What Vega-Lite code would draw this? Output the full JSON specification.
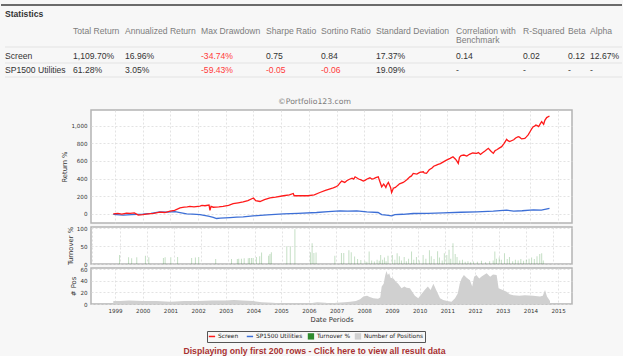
{
  "$schema": "https://vega.github.io/schema/vega-lite/v6.json",
  "background": "#f7f7f7",
  "padding": 0,
  "bounds": "flush",
  "spacing": 4,
  "title": {"text": "Displaying only first 200 rows - Click here to view all result data", "orient": "bottom", "anchor": "middle", "frame": "group", "dx": -17, "offset": 4, "font": "Liberation Sans", "fontSize": 8.7, "fontWeight": "bold", "color": "#a83232"},
  "config": {
    "font": "DejaVu Sans",
    "view": {"stroke": "#b4b4b4", "strokeWidth": 1.5, "fill": "#ffffff"},
    "axis": {"labelFont": "DejaVu Sans", "labelFontSize": 5.6, "labelColor": "#333333", "titleFont": "DejaVu Sans", "titleFontSize": 6.8, "titleFontWeight": "normal", "titleColor": "#333333", "ticks": false, "domain": false, "gridColor": "#dcdcdc", "gridDash": [2, 2], "gridWidth": 0.8, "labelPadding": 4, "titlePadding": 3}
  },
  "datasets": {
    "headers": [
      {"col": 1, "header": "Total Return"}, {"col": 2, "header": "Annualized Return"}, {"col": 3, "header": "Max Drawdown"}, {"col": 4, "header": "Sharpe Ratio"}, {"col": 5, "header": "Sortino Ratio"}, {"col": 6, "header": "Standard Deviation"}, {"col": 7, "header": "Correlation with\nBenchmark"}, {"col": 8, "header": "R-Squared"}, {"col": 9, "header": "Beta"}, {"col": 10, "header": "Alpha"}
    ],
    "stats": [
      {"series": "Screen", "slot": 3, "col": 1, "value": 1109.70, "label": "1,109.70%"},
      {"series": "Screen", "slot": 3, "col": 2, "value": 16.96, "label": "16.96%"},
      {"series": "Screen", "slot": 3, "col": 3, "value": -34.74, "label": "-34.74%"},
      {"series": "Screen", "slot": 3, "col": 4, "value": 0.75, "label": "0.75"},
      {"series": "Screen", "slot": 3, "col": 5, "value": 0.84, "label": "0.84"},
      {"series": "Screen", "slot": 3, "col": 6, "value": 17.37, "label": "17.37%"},
      {"series": "Screen", "slot": 3, "col": 7, "value": 0.14, "label": "0.14"},
      {"series": "Screen", "slot": 3, "col": 8, "value": 0.02, "label": "0.02"},
      {"series": "Screen", "slot": 3, "col": 9, "value": 0.12, "label": "0.12"},
      {"series": "Screen", "slot": 3, "col": 10, "value": 12.67, "label": "12.67%"},
      {"series": "SP1500 Utilities", "slot": 5, "col": 1, "value": 61.28, "label": "61.28%"},
      {"series": "SP1500 Utilities", "slot": 5, "col": 2, "value": 3.05, "label": "3.05%"},
      {"series": "SP1500 Utilities", "slot": 5, "col": 3, "value": -59.43, "label": "-59.43%"},
      {"series": "SP1500 Utilities", "slot": 5, "col": 4, "value": -0.05, "label": "-0.05"},
      {"series": "SP1500 Utilities", "slot": 5, "col": 5, "value": -0.06, "label": "-0.06"},
      {"series": "SP1500 Utilities", "slot": 5, "col": 6, "value": 19.09, "label": "19.09%"},
      {"series": "SP1500 Utilities", "slot": 5, "col": 7, "value": null, "label": "-"},
      {"series": "SP1500 Utilities", "slot": 5, "col": 8, "value": null, "label": "-"},
      {"series": "SP1500 Utilities", "slot": 5, "col": 9, "value": null, "label": "-"},
      {"series": "SP1500 Utilities", "slot": 5, "col": 10, "value": null, "label": "-"}
    ],
    "screen": [
      {"date": "1998-12-09", "Screen": 0}, {"date": "1999-02-07", "Screen": 5}, {"date": "1999-04-01", "Screen": -3}, {"date": "1999-06-02", "Screen": 8}, {"date": "1999-07-19", "Screen": 5}, {"date": "1999-09-13", "Screen": 10}, {"date": "1999-11-03", "Screen": -15}, {"date": "2000-01-01", "Screen": -10}, {"date": "2000-03-13", "Screen": 0}, {"date": "2000-05-25", "Screen": 5}, {"date": "2000-08-14", "Screen": 20}, {"date": "2000-10-19", "Screen": 15}, {"date": "2000-12-27", "Screen": 30},
      {"date": "2001-02-25", "Screen": 40}, {"date": "2001-05-07", "Screen": 68}, {"date": "2001-07-01", "Screen": 75}, {"date": "2001-08-10", "Screen": 80}, {"date": "2001-09-13", "Screen": 85}, {"date": "2001-11-07", "Screen": 78}, {"date": "2002-01-26", "Screen": 88}, {"date": "2002-02-20", "Screen": 95}, {"date": "2002-04-01", "Screen": 92}, {"date": "2002-05-25", "Screen": 100}, {"date": "2002-06-06", "Screen": 40}, {"date": "2002-06-20", "Screen": 85}, {"date": "2002-07-19", "Screen": 75}, {"date": "2002-10-01", "Screen": 80}, {"date": "2002-11-25", "Screen": 85},
      {"date": "2003-02-07", "Screen": 95}, {"date": "2003-04-08", "Screen": 115}, {"date": "2003-06-13", "Screen": 125}, {"date": "2003-08-18", "Screen": 136}, {"date": "2003-10-19", "Screen": 150}, {"date": "2004-01-01", "Screen": 180}, {"date": "2004-01-30", "Screen": 150}, {"date": "2004-03-27", "Screen": 140}, {"date": "2004-05-25", "Screen": 160}, {"date": "2004-08-07", "Screen": 182}, {"date": "2004-10-19", "Screen": 190},
      {"date": "2005-01-30", "Screen": 205}, {"date": "2005-04-19", "Screen": 215}, {"date": "2005-06-09", "Screen": 231}, {"date": "2005-06-20", "Screen": 205}, {"date": "2005-12-20", "Screen": 205}, {"date": "2006-03-13", "Screen": 215}, {"date": "2006-05-25", "Screen": 242}, {"date": "2006-08-07", "Screen": 265}, {"date": "2006-11-18", "Screen": 295}, {"date": "2006-12-20", "Screen": 305},
      {"date": "2007-01-19", "Screen": 320}, {"date": "2007-02-10", "Screen": 345}, {"date": "2007-03-09", "Screen": 371}, {"date": "2007-04-19", "Screen": 356}, {"date": "2007-05-15", "Screen": 375}, {"date": "2007-06-13", "Screen": 390}, {"date": "2007-07-25", "Screen": 405}, {"date": "2007-08-15", "Screen": 395}, {"date": "2007-09-02", "Screen": 420}, {"date": "2007-10-19", "Screen": 395}, {"date": "2007-11-20", "Screen": 385}, {"date": "2007-12-20", "Screen": 371},
      {"date": "2008-01-10", "Screen": 380}, {"date": "2008-02-07", "Screen": 395}, {"date": "2008-03-16", "Screen": 409}, {"date": "2008-04-10", "Screen": 395}, {"date": "2008-05-07", "Screen": 400}, {"date": "2008-06-01", "Screen": 410}, {"date": "2008-07-04", "Screen": 420}, {"date": "2008-07-19", "Screen": 380}, {"date": "2008-08-18", "Screen": 307}, {"date": "2008-09-13", "Screen": 337}, {"date": "2008-09-28", "Screen": 320}, {"date": "2008-10-12", "Screen": 300}, {"date": "2008-10-25", "Screen": 330}, {"date": "2008-11-14", "Screen": 356}, {"date": "2008-12-13", "Screen": 300}, {"date": "2008-12-27", "Screen": 242},
      {"date": "2009-01-19", "Screen": 290}, {"date": "2009-02-15", "Screen": 300}, {"date": "2009-03-13", "Screen": 320}, {"date": "2009-04-10", "Screen": 340}, {"date": "2009-05-29", "Screen": 356}, {"date": "2009-06-20", "Screen": 370}, {"date": "2009-07-19", "Screen": 390}, {"date": "2009-08-25", "Screen": 420}, {"date": "2009-09-15", "Screen": 430}, {"date": "2009-10-08", "Screen": 458}, {"date": "2009-11-25", "Screen": 450},
      {"date": "2010-01-01", "Screen": 470}, {"date": "2010-02-18", "Screen": 477}, {"date": "2010-03-01", "Screen": 465}, {"date": "2010-04-01", "Screen": 460}, {"date": "2010-05-07", "Screen": 500}, {"date": "2010-06-13", "Screen": 520}, {"date": "2010-07-05", "Screen": 540}, {"date": "2010-08-10", "Screen": 553}, {"date": "2010-09-01", "Screen": 560}, {"date": "2010-10-01", "Screen": 570}, {"date": "2010-11-10", "Screen": 590}, {"date": "2010-12-20", "Screen": 610},
      {"date": "2011-02-07", "Screen": 630}, {"date": "2011-03-16", "Screen": 648}, {"date": "2011-04-19", "Screen": 620}, {"date": "2011-05-05", "Screen": 600}, {"date": "2011-05-25", "Screen": 572}, {"date": "2011-06-10", "Screen": 640}, {"date": "2011-07-01", "Screen": 660}, {"date": "2011-08-07", "Screen": 667}, {"date": "2011-09-15", "Screen": 655}, {"date": "2011-10-19", "Screen": 675}, {"date": "2011-12-01", "Screen": 690},
      {"date": "2012-01-23", "Screen": 686}, {"date": "2012-02-15", "Screen": 695}, {"date": "2012-03-13", "Screen": 674}, {"date": "2012-04-05", "Screen": 690}, {"date": "2012-05-07", "Screen": 710}, {"date": "2012-06-24", "Screen": 743}, {"date": "2012-07-30", "Screen": 710}, {"date": "2012-08-29", "Screen": 686}, {"date": "2012-09-20", "Screen": 715}, {"date": "2012-10-19", "Screen": 730}, {"date": "2012-11-15", "Screen": 745}, {"date": "2012-12-17", "Screen": 762},
      {"date": "2013-01-19", "Screen": 800}, {"date": "2013-02-21", "Screen": 845}, {"date": "2013-03-10", "Screen": 830}, {"date": "2013-04-01", "Screen": 819}, {"date": "2013-05-25", "Screen": 840}, {"date": "2013-06-20", "Screen": 860}, {"date": "2013-07-23", "Screen": 876}, {"date": "2013-08-10", "Screen": 870}, {"date": "2013-09-06", "Screen": 850}, {"date": "2013-10-19", "Screen": 857}, {"date": "2013-11-05", "Screen": 870}, {"date": "2013-12-02", "Screen": 895},
      {"date": "2014-01-01", "Screen": 940}, {"date": "2014-01-15", "Screen": 960}, {"date": "2014-02-07", "Screen": 989}, {"date": "2014-02-25", "Screen": 995}, {"date": "2014-03-13", "Screen": 1008}, {"date": "2014-04-01", "Screen": 1000}, {"date": "2014-04-19", "Screen": 990}, {"date": "2014-05-10", "Screen": 1020}, {"date": "2014-05-29", "Screen": 1046}, {"date": "2014-06-24", "Screen": 1016}, {"date": "2014-07-10", "Screen": 1060}, {"date": "2014-08-03", "Screen": 1092}, {"date": "2014-09-09", "Screen": 1110}
    ],
    "utilities": [
      {"date": "1998-12-09", "SP1500 Utilities": -5}, {"date": "1999-04-19", "SP1500 Utilities": -15}, {"date": "1999-08-07", "SP1500 Utilities": -8}, {"date": "2000-01-01", "SP1500 Utilities": -4}, {"date": "2000-04-19", "SP1500 Utilities": 5}, {"date": "2000-08-14", "SP1500 Utilities": 23}, {"date": "2000-11-25", "SP1500 Utilities": 20}, {"date": "2001-03-02", "SP1500 Utilities": 25}, {"date": "2001-05-25", "SP1500 Utilities": 12}, {"date": "2001-08-03", "SP1500 Utilities": 0}, {"date": "2001-10-19", "SP1500 Utilities": -3},
      {"date": "2002-01-26", "SP1500 Utilities": -8}, {"date": "2002-05-14", "SP1500 Utilities": -27}, {"date": "2002-07-19", "SP1500 Utilities": -40}, {"date": "2002-09-02", "SP1500 Utilities": -53}, {"date": "2002-10-19", "SP1500 Utilities": -48}, {"date": "2003-02-25", "SP1500 Utilities": -42}, {"date": "2003-05-25", "SP1500 Utilities": -38}, {"date": "2003-08-18", "SP1500 Utilities": -34}, {"date": "2003-12-27", "SP1500 Utilities": -23},
      {"date": "2004-07-01", "SP1500 Utilities": -12}, {"date": "2005-01-30", "SP1500 Utilities": 0}, {"date": "2005-08-07", "SP1500 Utilities": 5}, {"date": "2006-04-12", "SP1500 Utilities": 15}, {"date": "2006-09-13", "SP1500 Utilities": 25}, {"date": "2007-02-14", "SP1500 Utilities": 34}, {"date": "2007-05-25", "SP1500 Utilities": 30}, {"date": "2007-09-24", "SP1500 Utilities": 34},
      {"date": "2008-02-03", "SP1500 Utilities": 23}, {"date": "2008-07-01", "SP1500 Utilities": 15}, {"date": "2008-08-18", "SP1500 Utilities": -8}, {"date": "2008-10-19", "SP1500 Utilities": -15}, {"date": "2008-12-27", "SP1500 Utilities": -23}, {"date": "2009-02-07", "SP1500 Utilities": -10}, {"date": "2009-05-25", "SP1500 Utilities": -5}, {"date": "2009-10-08", "SP1500 Utilities": 4},
      {"date": "2010-04-19", "SP1500 Utilities": 6}, {"date": "2010-11-07", "SP1500 Utilities": 11}, {"date": "2011-07-01", "SP1500 Utilities": 18}, {"date": "2012-01-23", "SP1500 Utilities": 23}, {"date": "2012-08-29", "SP1500 Utilities": 30}, {"date": "2013-02-21", "SP1500 Utilities": 42}, {"date": "2013-05-25", "SP1500 Utilities": 30}, {"date": "2013-09-13", "SP1500 Utilities": 35}, {"date": "2014-02-07", "SP1500 Utilities": 45}, {"date": "2014-05-25", "SP1500 Utilities": 42}, {"date": "2014-09-09", "SP1500 Utilities": 61}
    ],
    "turnover": [
      {"date": "1999-01-01", "Turnover %": 25}, {"date": "1999-05-03", "Turnover %": 19}, {"date": "1999-06-13", "Turnover %": 16}, {"date": "1999-08-21", "Turnover %": 19}, {"date": "1999-12-16", "Turnover %": 23}, {"date": "2000-01-30", "Turnover %": 19}, {"date": "2000-08-14", "Turnover %": 17}, {"date": "2000-09-06", "Turnover %": 19}, {"date": "2000-11-21", "Turnover %": 19}, {"date": "2001-02-21", "Turnover %": 20}, {"date": "2001-08-29", "Turnover %": 17}, {"date": "2001-10-19", "Turnover %": 18}, {"date": "2001-12-02", "Turnover %": 20},
      {"date": "2002-07-19", "Turnover %": 14}, {"date": "2003-02-17", "Turnover %": 14}, {"date": "2003-05-07", "Turnover %": 14}, {"date": "2003-05-25", "Turnover %": 15}, {"date": "2003-07-01", "Turnover %": 15}, {"date": "2003-08-07", "Turnover %": 16}, {"date": "2003-10-01", "Turnover %": 16}, {"date": "2003-10-19", "Turnover %": 17}, {"date": "2003-11-14", "Turnover %": 17}, {"date": "2003-12-06", "Turnover %": 17},
      {"date": "2004-01-19", "Turnover %": 20}, {"date": "2004-03-03", "Turnover %": 22}, {"date": "2004-03-28", "Turnover %": 32}, {"date": "2004-07-01", "Turnover %": 23}, {"date": "2004-07-19", "Turnover %": 28}, {"date": "2004-08-07", "Turnover %": 33}, {"date": "2005-03-03", "Turnover %": 50}, {"date": "2005-04-19", "Turnover %": 50}, {"date": "2005-06-20", "Turnover %": 98},
      {"date": "2006-01-15", "Turnover %": 33}, {"date": "2006-02-07", "Turnover %": 58}, {"date": "2006-03-03", "Turnover %": 31}, {"date": "2006-04-01", "Turnover %": 32}, {"date": "2006-12-10", "Turnover %": 23}, {"date": "2007-03-09", "Turnover %": 31}, {"date": "2007-04-09", "Turnover %": 31}, {"date": "2007-06-17", "Turnover %": 39}, {"date": "2007-07-19", "Turnover %": 33}, {"date": "2007-09-02", "Turnover %": 21}, {"date": "2007-10-12", "Turnover %": 14}, {"date": "2007-11-25", "Turnover %": 11},
      {"date": "2008-01-19", "Turnover %": 8}, {"date": "2008-02-14", "Turnover %": 6}, {"date": "2008-03-16", "Turnover %": 35}, {"date": "2008-04-19", "Turnover %": 10}, {"date": "2008-05-25", "Turnover %": 7}, {"date": "2008-07-01", "Turnover %": 12}, {"date": "2008-07-30", "Turnover %": 9}, {"date": "2008-08-18", "Turnover %": 25}, {"date": "2008-09-13", "Turnover %": 12}, {"date": "2008-10-08", "Turnover %": 18}, {"date": "2008-10-30", "Turnover %": 8}, {"date": "2008-11-25", "Turnover %": 23},
      {"date": "2009-01-23", "Turnover %": 25}, {"date": "2009-02-25", "Turnover %": 12}, {"date": "2009-03-28", "Turnover %": 30}, {"date": "2009-04-27", "Turnover %": 22}, {"date": "2009-05-25", "Turnover %": 10}, {"date": "2009-07-01", "Turnover %": 20}, {"date": "2009-07-30", "Turnover %": 8}, {"date": "2009-08-29", "Turnover %": 15}, {"date": "2009-10-08", "Turnover %": 35}, {"date": "2009-11-07", "Turnover %": 12}, {"date": "2009-12-13", "Turnover %": 20},
      {"date": "2010-01-19", "Turnover %": 10}, {"date": "2010-03-13", "Turnover %": 25}, {"date": "2010-04-19", "Turnover %": 15}, {"date": "2010-06-06", "Turnover %": 39}, {"date": "2010-07-01", "Turnover %": 22}, {"date": "2010-08-07", "Turnover %": 14}, {"date": "2010-09-24", "Turnover %": 36}, {"date": "2010-10-19", "Turnover %": 18}, {"date": "2010-11-25", "Turnover %": 10}, {"date": "2010-12-24", "Turnover %": 30},
      {"date": "2011-01-26", "Turnover %": 25}, {"date": "2011-02-25", "Turnover %": 40}, {"date": "2011-03-20", "Turnover %": 15}, {"date": "2011-04-19", "Turnover %": 58}, {"date": "2011-05-19", "Turnover %": 28}, {"date": "2011-06-13", "Turnover %": 20}, {"date": "2011-07-19", "Turnover %": 10}, {"date": "2011-08-25", "Turnover %": 12}, {"date": "2011-10-01", "Turnover %": 6}, {"date": "2011-11-07", "Turnover %": 8}, {"date": "2011-12-13", "Turnover %": 5},
      {"date": "2012-01-19", "Turnover %": 7}, {"date": "2012-03-13", "Turnover %": 6}, {"date": "2012-05-07", "Turnover %": 9}, {"date": "2012-07-01", "Turnover %": 5}, {"date": "2012-08-25", "Turnover %": 8}, {"date": "2012-10-12", "Turnover %": 10}, {"date": "2012-11-03", "Turnover %": 35}, {"date": "2012-11-25", "Turnover %": 15},
      {"date": "2013-01-01", "Turnover %": 18}, {"date": "2013-01-30", "Turnover %": 12}, {"date": "2013-03-13", "Turnover %": 30}, {"date": "2013-04-19", "Turnover %": 14}, {"date": "2013-05-19", "Turnover %": 20}, {"date": "2013-07-01", "Turnover %": 8}, {"date": "2013-08-07", "Turnover %": 12}, {"date": "2013-09-13", "Turnover %": 10}, {"date": "2013-10-19", "Turnover %": 14}, {"date": "2013-11-25", "Turnover %": 9},
      {"date": "2014-01-01", "Turnover %": 12}, {"date": "2014-02-07", "Turnover %": 15}, {"date": "2014-03-13", "Turnover %": 18}, {"date": "2014-04-19", "Turnover %": 14}, {"date": "2014-05-25", "Turnover %": 22}, {"date": "2014-07-01", "Turnover %": 28}, {"date": "2014-07-27", "Turnover %": 30}, {"date": "2014-08-18", "Turnover %": 10}
    ],
    "positions": [
      {"date": "1998-12-09", "Number of Positions": 5}, {"date": "1999-03-13", "Number of Positions": 5}, {"date": "1999-07-01", "Number of Positions": 6}, {"date": "2000-01-01", "Number of Positions": 5}, {"date": "2000-07-01", "Number of Positions": 5}, {"date": "2001-01-01", "Number of Positions": 4}, {"date": "2001-07-01", "Number of Positions": 5}, {"date": "2002-01-01", "Number of Positions": 5}, {"date": "2002-07-01", "Number of Positions": 6}, {"date": "2003-01-01", "Number of Positions": 6}, {"date": "2003-04-19", "Number of Positions": 7}, {"date": "2003-08-07", "Number of Positions": 6},
      {"date": "2004-01-01", "Number of Positions": 5}, {"date": "2004-04-19", "Number of Positions": 3}, {"date": "2004-09-13", "Number of Positions": 2}, {"date": "2005-01-01", "Number of Positions": 1}, {"date": "2005-07-01", "Number of Positions": 1}, {"date": "2006-01-01", "Number of Positions": 1}, {"date": "2006-04-19", "Number of Positions": 3}, {"date": "2006-08-07", "Number of Positions": 2}, {"date": "2006-10-04", "Number of Positions": 1},
      {"date": "2007-01-01", "Number of Positions": 2}, {"date": "2007-04-19", "Number of Positions": 3}, {"date": "2007-07-01", "Number of Positions": 4}, {"date": "2007-09-13", "Number of Positions": 5}, {"date": "2007-11-07", "Number of Positions": 8}, {"date": "2007-12-20", "Number of Positions": 13}, {"date": "2008-02-07", "Number of Positions": 14}, {"date": "2008-03-13", "Number of Positions": 12}, {"date": "2008-04-30", "Number of Positions": 10}, {"date": "2008-07-01", "Number of Positions": 9}, {"date": "2008-07-30", "Number of Positions": 11},
      {"date": "2008-08-18", "Number of Positions": 30}, {"date": "2008-09-13", "Number of Positions": 35}, {"date": "2008-10-01", "Number of Positions": 48}, {"date": "2008-10-19", "Number of Positions": 57}, {"date": "2008-11-07", "Number of Positions": 50}, {"date": "2008-11-25", "Number of Positions": 53}, {"date": "2008-12-13", "Number of Positions": 45},
      {"date": "2009-01-19", "Number of Positions": 44}, {"date": "2009-02-25", "Number of Positions": 38}, {"date": "2009-03-24", "Number of Positions": 35}, {"date": "2009-05-07", "Number of Positions": 27}, {"date": "2009-06-13", "Number of Positions": 30}, {"date": "2009-07-12", "Number of Positions": 28}, {"date": "2009-08-25", "Number of Positions": 27}, {"date": "2009-10-01", "Number of Positions": 20}, {"date": "2009-10-30", "Number of Positions": 14}, {"date": "2009-12-13", "Number of Positions": 10},
      {"date": "2010-01-30", "Number of Positions": 18}, {"date": "2010-03-13", "Number of Positions": 25}, {"date": "2010-04-19", "Number of Positions": 30}, {"date": "2010-05-25", "Number of Positions": 24}, {"date": "2010-07-01", "Number of Positions": 35}, {"date": "2010-08-07", "Number of Positions": 24}, {"date": "2010-09-27", "Number of Positions": 10}, {"date": "2010-11-07", "Number of Positions": 7},
      {"date": "2011-01-01", "Number of Positions": 5}, {"date": "2011-02-25", "Number of Positions": 4}, {"date": "2011-04-12", "Number of Positions": 10}, {"date": "2011-05-18", "Number of Positions": 18}, {"date": "2011-06-13", "Number of Positions": 35}, {"date": "2011-07-08", "Number of Positions": 44}, {"date": "2011-08-07", "Number of Positions": 50}, {"date": "2011-09-13", "Number of Positions": 45}, {"date": "2011-10-26", "Number of Positions": 41}, {"date": "2011-11-25", "Number of Positions": 30}, {"date": "2011-12-20", "Number of Positions": 47},
      {"date": "2012-01-19", "Number of Positions": 50}, {"date": "2012-02-25", "Number of Positions": 44}, {"date": "2012-04-01", "Number of Positions": 48}, {"date": "2012-06-02", "Number of Positions": 53}, {"date": "2012-07-19", "Number of Positions": 47}, {"date": "2012-08-25", "Number of Positions": 51}, {"date": "2012-10-12", "Number of Positions": 50}, {"date": "2012-11-07", "Number of Positions": 27},
      {"date": "2013-01-01", "Number of Positions": 24}, {"date": "2013-02-21", "Number of Positions": 21}, {"date": "2013-04-01", "Number of Positions": 17}, {"date": "2013-05-18", "Number of Positions": 15}, {"date": "2013-08-07", "Number of Positions": 14}, {"date": "2013-10-19", "Number of Positions": 15}, {"date": "2014-02-07", "Number of Positions": 14}, {"date": "2014-05-07", "Number of Positions": 13}, {"date": "2014-06-13", "Number of Positions": 14}, {"date": "2014-07-12", "Number of Positions": 24}, {"date": "2014-08-07", "Number of Positions": 13}, {"date": "2014-09-16", "Number of Positions": 5}
    ]
  },
  "vconcat": [
    {
      "width": 481,
      "height": 106,
      "view": {"stroke": null, "fill": null},
      "layer": [
        {
          "data": {"values": [{}]},
          "mark": {"type": "rule", "color": "#6b6b6b", "strokeWidth": 2},
          "encoding": {
            "x": {"datum": -1, "type": "quantitative", "axis": null, "scale": {"domain": [-1, 0, 1, 2, 3, 4, 5, 6, 7, 8, 9, 10, 11], "range": [-90, -86, -18, 34, 110, 175, 230, 285, 365, 432, 477, 499, 531], "nice": false, "zero": false}},
            "x2": {"datum": 11},
            "y": {"datum": -1, "type": "quantitative", "axis": null, "scale": {"domain": [-1, 0, 1, 2, 3, 4, 5, 6], "range": [5, 14, 26.5, 47, 56, 63, 70, 77], "nice": false, "zero": false}}
          }
        },
        {
          "data": {"values": [{}]},
          "mark": {"type": "rule", "color": "#e3e3e3", "strokeWidth": 1},
          "encoding": {"x": {"datum": 0, "type": "quantitative"}, "x2": {"datum": 11}, "y": {"datum": 2, "type": "quantitative"}}
        },
        {
          "data": {"values": [{}]},
          "mark": {"type": "rule", "color": "#e3e3e3", "strokeWidth": 1},
          "encoding": {"x": {"datum": 0, "type": "quantitative"}, "x2": {"datum": 11}, "y": {"datum": 4, "type": "quantitative"}}
        },
        {
          "data": {"values": [{}]},
          "mark": {"type": "rule", "color": "#e3e3e3", "strokeWidth": 1},
          "encoding": {"x": {"datum": 0, "type": "quantitative"}, "x2": {"datum": 11}, "y": {"datum": 6, "type": "quantitative"}}
        },
        {
          "data": {"values": [{}]},
          "mark": {"type": "text", "font": "Liberation Sans", "fontSize": 8.6, "fontWeight": "bold", "align": "left", "baseline": "middle", "color": "#333333"},
          "encoding": {"x": {"datum": 0, "type": "quantitative"}, "y": {"datum": 0, "type": "quantitative"}, "text": {"value": "Statistics"}}
        },
        {
          "data": {"name": "headers"},
          "mark": {"type": "text", "font": "Liberation Sans", "fontSize": 8.6, "align": "left", "baseline": "top", "lineBreak": "\n", "lineHeight": 9.5, "color": "#7d7d7d"},
          "encoding": {"x": {"field": "col", "type": "quantitative"}, "y": {"datum": 1, "type": "quantitative"}, "text": {"field": "header"}}
        },
        {
          "data": {"name": "stats"},
          "transform": [{"filter": "datum.col == 1"}],
          "mark": {"type": "text", "font": "Liberation Sans", "fontSize": 8.6, "align": "left", "baseline": "middle", "color": "#333333"},
          "encoding": {"x": {"datum": 0, "type": "quantitative"}, "y": {"field": "slot", "type": "quantitative"}, "text": {"field": "series"}}
        },
        {
          "data": {"name": "stats"},
          "mark": {"type": "text", "font": "Liberation Sans", "fontSize": 8.6, "align": "left", "baseline": "middle"},
          "encoding": {
            "x": {"field": "col", "type": "quantitative"},
            "y": {"field": "slot", "type": "quantitative"},
            "text": {"field": "label"},
            "color": {"condition": {"test": "datum.value < 0", "value": "#ff3b3b"}, "value": "#333333"}
          }
        }
      ]
    },
    {
      "width": 481,
      "height": 113,
      "title": {"text": "©Portfolio123.com", "anchor": "middle", "dx": -17, "offset": 4, "font": "DejaVu Sans", "fontSize": 7.7, "fontWeight": "normal", "color": "#7a7a7a"},
      "encoding": {
        "x": {"field": "date", "type": "temporal", "scale": {"type": "utc", "domain": [{"year": 1998, "month": 2, "date": 18, "utc": true}, {"year": 2015, "month": 7, "date": 3, "utc": true}]}, "axis": {"labels": false, "title": null, "grid": true, "tickCount": {"interval": "year", "step": 1}}},
        "y": {"field": "ret", "type": "quantitative", "scale": {"domain": [-104, 1178], "nice": false, "zero": false}, "axis": {"values": [0, 200, 400, 600, 800, 1000], "format": ",.0f", "title": "Return %", "grid": true}}
      },
      "layer": [
        {
          "data": {"name": "utilities"},
          "transform": [{"fold": ["SP1500 Utilities"], "as": ["series", "ret"]}],
          "mark": {"type": "line", "strokeWidth": 1.3},
          "encoding": {"color": {"field": "series", "type": "nominal", "scale": {"domain": ["Screen", "SP1500 Utilities", "Turnover %", "Number of Positions"], "range": ["#ff1a1a", "#3d6fd6", "#2e8b2e", "#d0d0d0"]}, "legend": {"title": null, "orient": "none", "legendX": 116, "legendY": 331, "direction": "horizontal", "columns": 4, "padding": 2, "strokeColor": "#555555", "labelFont": "DejaVu Sans", "labelFontSize": 5.9, "labelColor": "#222222", "labelOffset": 3, "columnPadding": 4, "symbolSize": 40, "symbolStrokeWidth": 1.5, "symbolOpacity": 1, "encode": {"symbols": {"update": {"shape": {"signal": "datum.value === 'Screen' || datum.value === 'SP1500 Utilities' ? 'stroke' : 'square'"}, "fill": {"scale": "color", "field": "value"}, "stroke": {"scale": "color", "field": "value"}, "strokeWidth": {"signal": "datum.value === 'Screen' || datum.value === 'SP1500 Utilities' ? 1.5 : 0"}, "opacity": {"value": 1}}}}}}}
        },
        {
          "data": {"name": "screen"},
          "transform": [{"fold": ["Screen"], "as": ["series", "ret"]}],
          "mark": {"type": "line", "strokeWidth": 1.3},
          "encoding": {"color": {"field": "series", "type": "nominal"}}
        }
      ]
    },
    {
      "width": 481,
      "height": 37,
      "data": {"name": "turnover"},
      "transform": [{"fold": ["Turnover %"], "as": ["series", "v"]}],
      "mark": {"type": "bar", "width": 1, "opacity": 0.28},
      "encoding": {
        "x": {"field": "date", "type": "temporal", "scale": {"type": "utc", "domain": [{"year": 1998, "month": 2, "date": 18, "utc": true}, {"year": 2015, "month": 7, "date": 3, "utc": true}]}, "axis": {"labels": false, "title": null, "grid": true, "tickCount": {"interval": "year", "step": 1}}},
        "y": {"field": "v", "type": "quantitative", "scale": {"domain": [0, 104], "nice": false, "zero": false}, "axis": {"values": [0, 50, 100], "title": "Turnover %", "grid": true}},
        "color": {"field": "series", "type": "nominal"}
      }
    },
    {
      "width": 481,
      "height": 36,
      "data": {"name": "positions"},
      "transform": [{"fold": ["Number of Positions"], "as": ["series", "n"]}],
      "mark": {"type": "area"},
      "encoding": {
        "x": {"field": "date", "type": "temporal", "scale": {"type": "utc", "domain": [{"year": 1998, "month": 2, "date": 18, "utc": true}, {"year": 2015, "month": 7, "date": 3, "utc": true}]}, "axis": {"format": "%Y", "title": "Date Periods", "grid": true, "tickCount": {"interval": "year", "step": 1}}},
        "y": {"field": "n", "type": "quantitative", "scale": {"domain": [0, 62], "nice": false, "zero": false}, "axis": {"values": [0, 20, 40, 60], "title": "# Pos", "grid": true}},
        "color": {"field": "series", "type": "nominal"}
      }
    }
  ]
}
